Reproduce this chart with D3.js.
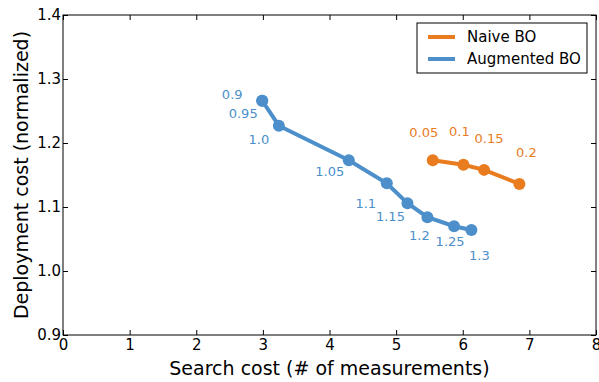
<!DOCTYPE html>
<html>
<head>
<meta charset="utf-8">
<script src="https://cdn.jsdelivr.net/npm/d3@7"></script>
<style>
  body { margin: 0; background: #fff; }
  text { font-family: "DejaVu Sans", sans-serif; }
</style>
</head>
<body>
<script>
// data
var naiveX = [5.55, 6.01, 6.32, 6.85];
var naiveY = [1.173, 1.166, 1.158, 1.136];
var naiveLabels = ["0.05", "0.1", "0.15", "0.2"];

var augX = [2.99, 2.99, 3.24, 4.29, 4.86, 5.17, 5.47, 5.87, 6.13];
var augY = [1.266, 1.266, 1.227, 1.173, 1.137, 1.106, 1.084, 1.070, 1.064];
var augLabels = ["0.9", "0.95", "1.0", "1.05", "1.1", "1.15", "1.2", "1.25", "1.3"];

var xTicks = [0, 1, 2, 3, 4, 5, 6, 7, 8];
var yTicks = [0.9, 1.0, 1.1, 1.2, 1.3, 1.4];

// pixel offsets of the annotation text from each point
var naiveOffsets = [[-9, -28], [-4, -33], [5, -31], [7, -32]];
var augOffsets = [[-30, -6], [-19, 13], [-20, 14], [-19, 11], [-21, 20], [-17, 13], [-8, 18], [-4, 15], [8, 25]];

var svgWidth = 599;
var svgHeight = 382;
var margin = { top: 15, right: 3, bottom: 47, left: 63 };
var width = svgWidth - margin.left - margin.right;
var height = svgHeight - margin.top - margin.bottom;

var orange = "#e87c1e";
var blue = "#4c8fca";

var svg = d3.select("body").append("svg")
  .attr("width", svgWidth)
  .attr("height", svgHeight);

var chartGroup = svg.append("g")
  .attr("transform", `translate(${margin.left}, ${margin.top})`);

var x = d3.scaleLinear().domain([0, 8]).range([0, width]);
var y = d3.scaleLinear().domain([0.9, 1.4]).range([height, 0]);

// axes with inward ticks on all sides
function styleAxis(g) {
  g.select(".domain").remove();
  g.selectAll(".tick line").attr("stroke", "#000");
  g.selectAll(".tick text").attr("fill", "#000")
    .style("font-size", "15px").style("font-family", "DejaVu Sans");
}

chartGroup.append("g")
  .attr("transform", `translate(0, ${height})`)
  .call(d3.axisBottom(x).tickValues(xTicks).tickFormat(d3.format("d")).tickSizeInner(-5).tickPadding(4))
  .call(styleAxis);

chartGroup.append("g")
  .call(d3.axisTop(x).tickValues(xTicks).tickFormat("").tickSizeInner(-5))
  .call(styleAxis);

chartGroup.append("g")
  .call(d3.axisLeft(y).tickValues(yTicks).tickFormat(d3.format(".1f")).tickSizeInner(-5).tickPadding(2))
  .call(styleAxis);

chartGroup.append("g")
  .attr("transform", `translate(${width}, 0)`)
  .call(d3.axisRight(y).tickValues(yTicks).tickFormat("").tickSizeInner(-5))
  .call(styleAxis);

chartGroup.append("rect")
  .attr("width", width).attr("height", height)
  .attr("fill", "none").attr("stroke", "#000").attr("stroke-width", 1);

// series
function drawSeries(xs, ys, labels, offsets, color) {
  var pts = xs.map((d, i) => ({ x: d, y: ys[i], label: labels[i], off: offsets[i] }));
  var line = d3.line().x(d => x(d.x)).y(d => y(d.y));
  chartGroup.append("path")
    .attr("d", line(pts))
    .attr("fill", "none")
    .attr("stroke", color)
    .attr("stroke-width", 4);
  chartGroup.selectAll(null).data(pts).enter().append("circle")
    .attr("cx", d => x(d.x))
    .attr("cy", d => y(d.y))
    .attr("r", 6)
    .attr("fill", color);
  chartGroup.selectAll(null).data(pts).enter().append("text")
    .attr("x", d => x(d.x) + d.off[0])
    .attr("y", d => y(d.y) + d.off[1])
    .attr("dy", "0.35em")
    .attr("text-anchor", "middle")
    .attr("fill", color)
    .style("font-size", "13px")
    .text(d => d.label);
}

drawSeries(augX, augY, augLabels, augOffsets, blue);
drawSeries(naiveX, naiveY, naiveLabels, naiveOffsets, orange);

// axis titles
svg.append("text")
  .attr("x", margin.left + width / 2)
  .attr("y", 375)
  .attr("text-anchor", "middle")
  .style("font-size", "19px")
  .text("Search cost (# of measurements)");

svg.append("text")
  .attr("transform", `translate(28, ${margin.top + height / 2}) rotate(-90)`)
  .attr("text-anchor", "middle")
  .style("font-size", "19px")
  .text("Deployment cost (normalized)");

// legend
var legend = svg.append("g").attr("transform", "translate(417, 23)");
legend.append("rect")
  .attr("width", 170).attr("height", 50)
  .attr("fill", "#fff").attr("stroke", "#000").attr("stroke-width", 1);
var legendItems = [["Naive BO", orange], ["Augmented BO", blue]];
legendItems.forEach(function(item, i) {
  legend.append("line")
    .attr("x1", 11).attr("x2", 38)
    .attr("y1", 14 + i * 22).attr("y2", 14 + i * 22)
    .attr("stroke", item[1]).attr("stroke-width", 4);
  legend.append("text")
    .attr("x", 50).attr("y", 14 + i * 22)
    .attr("dy", "0.35em")
    .style("font-size", "15px")
    .text(item[0]);
});
</script>
</body>
</html>
